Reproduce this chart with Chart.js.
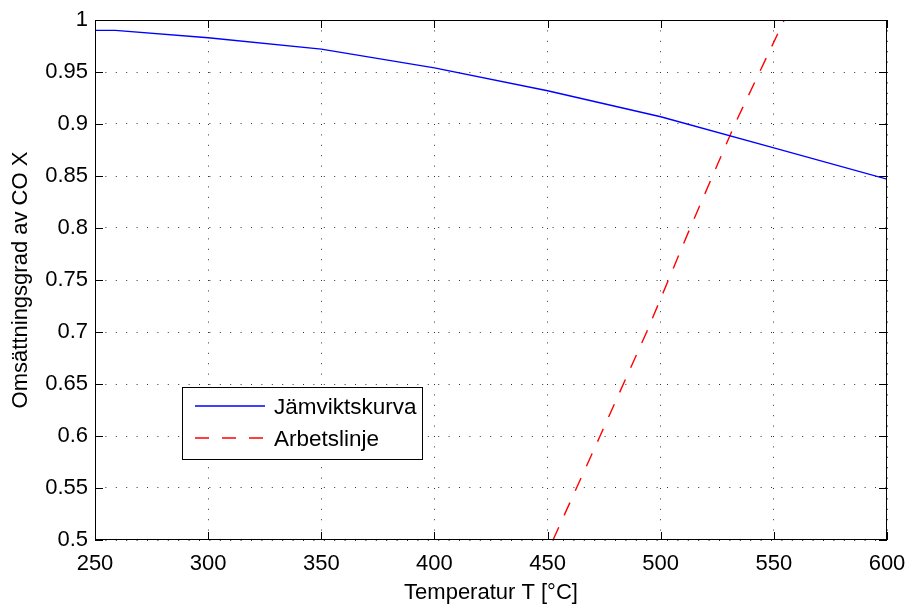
<!DOCTYPE html>
<html>
<head>
<meta charset="utf-8">
<title>Omsättningsgrad av CO</title>
<script src="https://cdn.jsdelivr.net/npm/chart.js@4.4.0/dist/chart.umd.min.js"></script>
<style>
html, body { margin: 0; padding: 0; background: #fff; }
#wrap { width: 908px; height: 604px; }
</style>
</head>
<body>
<div id="wrap"><canvas id="convChart" width="908" height="604"></canvas></div>
<script>
// Jämviktskurva
var eqTemp = [250, 259, 300, 350, 400, 450, 500, 550, 600];
var eqConv = [0.990, 0.990, 0.983, 0.972, 0.954, 0.932, 0.907, 0.877, 0.847];

// Arbetslinje
var opTemp = [452.4, 473.2, 493.8, 513.0, 532.8, 554.6];
var opConv = [0.50, 0.60, 0.70, 0.80, 0.90, 1.00];

var xTicks = [250, 300, 350, 400, 450, 500, 550, 600];
var yTicks = [0.5, 0.55, 0.6, 0.65, 0.7, 0.75, 0.8, 0.85, 0.9, 0.95, 1];

var FONT = '"Liberation Sans", Arial, Helvetica, sans-serif';

function toPoints(xs, ys) {
    var pts = [];
    for (var i = 0; i < xs.length; i++) pts.push({ x: xs[i], y: ys[i] });
    return pts;
}

// matlab style box, inward ticks and legend
var matlabFrame = {
    id: 'matlabFrame',
    afterDraw: function (chart) {
        var ctx = chart.ctx;
        var a = chart.chartArea;
        var xs = chart.scales.x, ys = chart.scales.y;
        var tl = 8;
        ctx.save();
        ctx.strokeStyle = '#000';
        ctx.lineWidth = 1;
        ctx.setLineDash([]);
        ctx.strokeRect(a.left + 0.5, a.top + 0.5, a.right - a.left - 1, a.bottom - a.top - 1);

        ctx.beginPath();
        xTicks.forEach(function (v) {
            var px = Math.round(xs.getPixelForValue(v)) + 0.5;
            ctx.moveTo(px, a.bottom);
            ctx.lineTo(px, a.bottom - tl);
            ctx.moveTo(px, a.top);
            ctx.lineTo(px, a.top + tl);
        });
        yTicks.forEach(function (v) {
            var py = Math.round(ys.getPixelForValue(v)) + 0.5;
            ctx.moveTo(a.left, py);
            ctx.lineTo(a.left + tl, py);
            ctx.moveTo(a.right, py);
            ctx.lineTo(a.right - tl, py);
        });
        ctx.stroke();

        // legend box
        var bx = a.left + 87, by = a.top + 367, bw = 240, bh = 72;
        ctx.fillStyle = '#fff';
        ctx.fillRect(bx, by, bw, bh);
        ctx.strokeRect(bx + 0.5, by + 0.5, bw, bh);
        ctx.font = '22.5px ' + FONT;
        ctx.textBaseline = 'middle';
        ctx.textAlign = 'left';
        chart.data.datasets.forEach(function (ds, i) {
            var ly = by + 19 + i * 32;
            ctx.beginPath();
            ctx.strokeStyle = ds.borderColor;
            ctx.lineWidth = ds.borderWidth;
            ctx.setLineDash(ds.borderDash || []);
            ctx.moveTo(bx + 13, ly);
            ctx.lineTo(bx + 83, ly);
            ctx.stroke();
            ctx.fillStyle = '#000';
            ctx.fillText(ds.label, bx + 92, ly + 2);
        });
        ctx.restore();
    }
};

var ctx = document.getElementById('convChart').getContext('2d');
var convChart = new Chart(ctx, {
    type: 'line',
    data: {
        datasets: [
            {
                label: 'Jämviktskurva',
                data: toPoints(eqTemp, eqConv),
                borderColor: '#0000ff',
                borderWidth: 1.4,
                pointRadius: 0,
                fill: false,
                tension: 0
            },
            {
                label: 'Arbetslinje',
                data: toPoints(opTemp, opConv),
                borderColor: '#ff0000',
                borderWidth: 1.4,
                borderDash: [14, 13],
                pointRadius: 0,
                fill: false,
                tension: 0
            }
        ]
    },
    options: {
        responsive: false,
        animation: false,
        layout: { padding: { left: 0, right: 21, top: 20, bottom: 0 } },
        plugins: {
            legend: { display: false },
            tooltip: { enabled: false }
        },
        scales: {
            x: {
                type: 'linear',
                min: 250,
                max: 600,
                afterBuildTicks: function (scale) {
                    scale.ticks = xTicks.map(function (v) { return { value: v }; });
                },
                afterFit: function (scale) {
                    scale.height = 64;
                    scale.paddingLeft = 0;
                    scale.paddingRight = 0;
                },
                ticks: {
                    color: '#000',
                    font: { family: FONT, size: 22 },
                    padding: 11,
                    maxRotation: 0,
                    callback: function (v) { return String(v); }
                },
                grid: { color: '#333', lineWidth: 1, drawTicks: false },
                border: { display: false, dash: [1, 9.4] },
                title: {
                    display: true,
                    text: 'Temperatur T [°C]',
                    color: '#000',
                    font: { family: FONT, size: 22, lineHeight: 1 },
                    padding: { top: 0, bottom: 0 }
                }
            },
            y: {
                type: 'linear',
                min: 0.5,
                max: 1,
                afterBuildTicks: function (scale) {
                    scale.ticks = yTicks.map(function (v) { return { value: v }; });
                },
                afterFit: function (scale) {
                    scale.width = 95;
                    scale.paddingTop = 0;
                    scale.paddingBottom = 0;
                },
                ticks: {
                    color: '#000',
                    font: { family: FONT, size: 22 },
                    padding: 7,
                    callback: function (v) { return String(v); }
                },
                grid: { color: '#333', lineWidth: 1, drawTicks: false },
                border: { display: false, dash: [1, 9.4] },
                title: {
                    display: true,
                    text: 'Omsättningsgrad av CO X',
                    color: '#000',
                    font: { family: FONT, size: 22, lineHeight: 1 },
                    padding: { top: 10, bottom: 0 }
                }
            }
        }
    },
    plugins: [matlabFrame]
});
</script>
</body>
</html>
